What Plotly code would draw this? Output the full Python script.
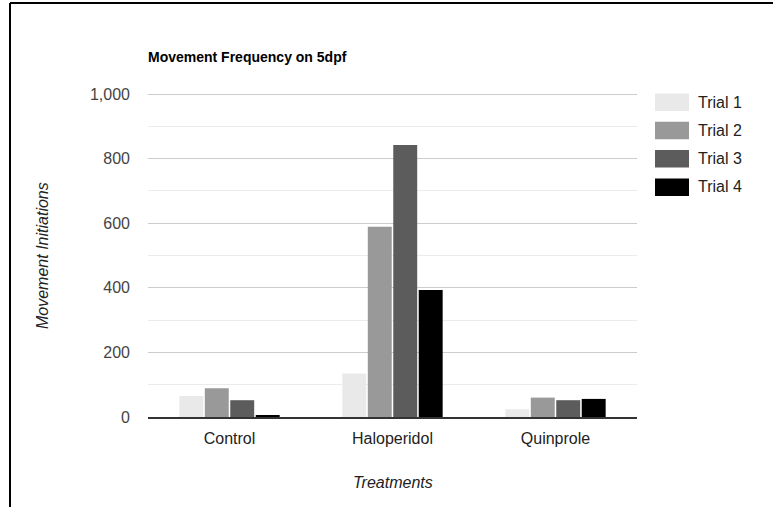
import plotly.graph_objects as go

# Data
treatments = ["Control", "Haloperidol", "Quinprole"]
trial_names = ["Trial 1", "Trial 2", "Trial 3", "Trial 4"]
trial1 = [65, 135, 24]
trial2 = [89, 589, 60]
trial3 = [52, 842, 52]
trial4 = [5, 393, 56]
y_ticks = [0, 200, 400, 600, 800, 1000]
y_tick_labels = ["0", "200", "400", "600", "800", "1,000"]

colors = ["#e9e9e9", "#999999", "#5c5c5c", "#000000"]
series = [trial1, trial2, trial3, trial4]

W, H = 773, 507
# plot area in pixels; the frame extends a few px above the 1,000 gridline (y=94)
L, R, T, B = 148, 637, 86, 417
Y_MAX = 1000 * (B - T) / (B - 94)
FONT = "Liberation Sans, Arial, sans-serif"


def px_x(x):
    return (x - L) / (R - L)


def px_y(y):
    return (B - y) / (B - T)


fig = go.Figure()
for name, vals, col in zip(trial_names, series, colors):
    fig.add_trace(go.Bar(x=treatments, y=vals, name=name,
                         marker=dict(color=col, line=dict(width=0)),
                         showlegend=False))

shapes = []
annotations = []

# legend swatches and labels
for i, (name, col) in enumerate(zip(trial_names, colors)):
    top = 93.5 + i * 28.3
    shapes.append(dict(type="rect", xref="paper", yref="paper",
                       x0=px_x(655), x1=px_x(689), y0=px_y(top), y1=px_y(top + 17.5),
                       fillcolor=col, line=dict(width=0)))
    annotations.append(dict(text=name, xref="paper", yref="paper",
                            x=px_x(696), y=px_y(top + 8.5), xanchor="left", yanchor="middle",
                            showarrow=False, font=dict(family=FONT, size=16, color="#222222")))

# frame lines (top and left)
shapes.append(dict(type="line", xref="paper", yref="paper",
                   x0=px_x(10), x1=px_x(W + 5), y0=px_y(3), y1=px_y(3),
                   line=dict(color="#000000", width=2)))
shapes.append(dict(type="line", xref="paper", yref="paper",
                   x0=px_x(10), x1=px_x(10), y0=px_y(3), y1=px_y(H + 5),
                   line=dict(color="#000000", width=2)))

# axis titles
annotations.append(dict(text="<i>Treatments</i>", xref="paper", yref="paper",
                        x=px_x(392.5), y=px_y(482), xanchor="center", yanchor="middle",
                        showarrow=False, font=dict(family=FONT, size=16, color="#222222")))
annotations.append(dict(text="<i>Movement Initiations</i>", xref="paper", yref="paper",
                        x=px_x(43), y=px_y(256), xanchor="center", yanchor="middle",
                        textangle=-90, showarrow=False,
                        font=dict(family=FONT, size=16, color="#222222")))

fig.update_layout(
    width=W, height=H,
    margin=dict(l=L, r=W - R, t=T, b=H - B, pad=0),
    paper_bgcolor="white", plot_bgcolor="white",
    barmode="group", bargap=0.375, bargroupgap=0.06,
    title=dict(text="<b>Movement Frequency on 5dpf</b>", xref="paper", x=0, xanchor="left",
               yref="container", y=1 - 57 / H, yanchor="middle",
               font=dict(family=FONT, size=14, color="#000000")),
    font=dict(family=FONT, size=16, color="#444444"),
    shapes=shapes, annotations=annotations,
    showlegend=False,
)

fig.update_xaxes(showgrid=False, showline=True, linecolor="#333333", linewidth=1.5,
                 ticks="", tickfont=dict(family=FONT, size=16, color="#222222"),
                 ticklabelstandoff=6)
fig.update_yaxes(range=[0, Y_MAX], tickvals=y_ticks, ticktext=y_tick_labels,
                 showgrid=True, gridcolor="#cccccc", gridwidth=1,
                 zeroline=False, showline=False, ticks="",
                 minor=dict(tickvals=[100, 300, 500, 700, 900], showgrid=True,
                            gridcolor="#ebebeb", gridwidth=1),
                 tickfont=dict(family=FONT, size=16, color="#444444"),
                 ticklabelstandoff=17)

fig.write_html("out.html")
